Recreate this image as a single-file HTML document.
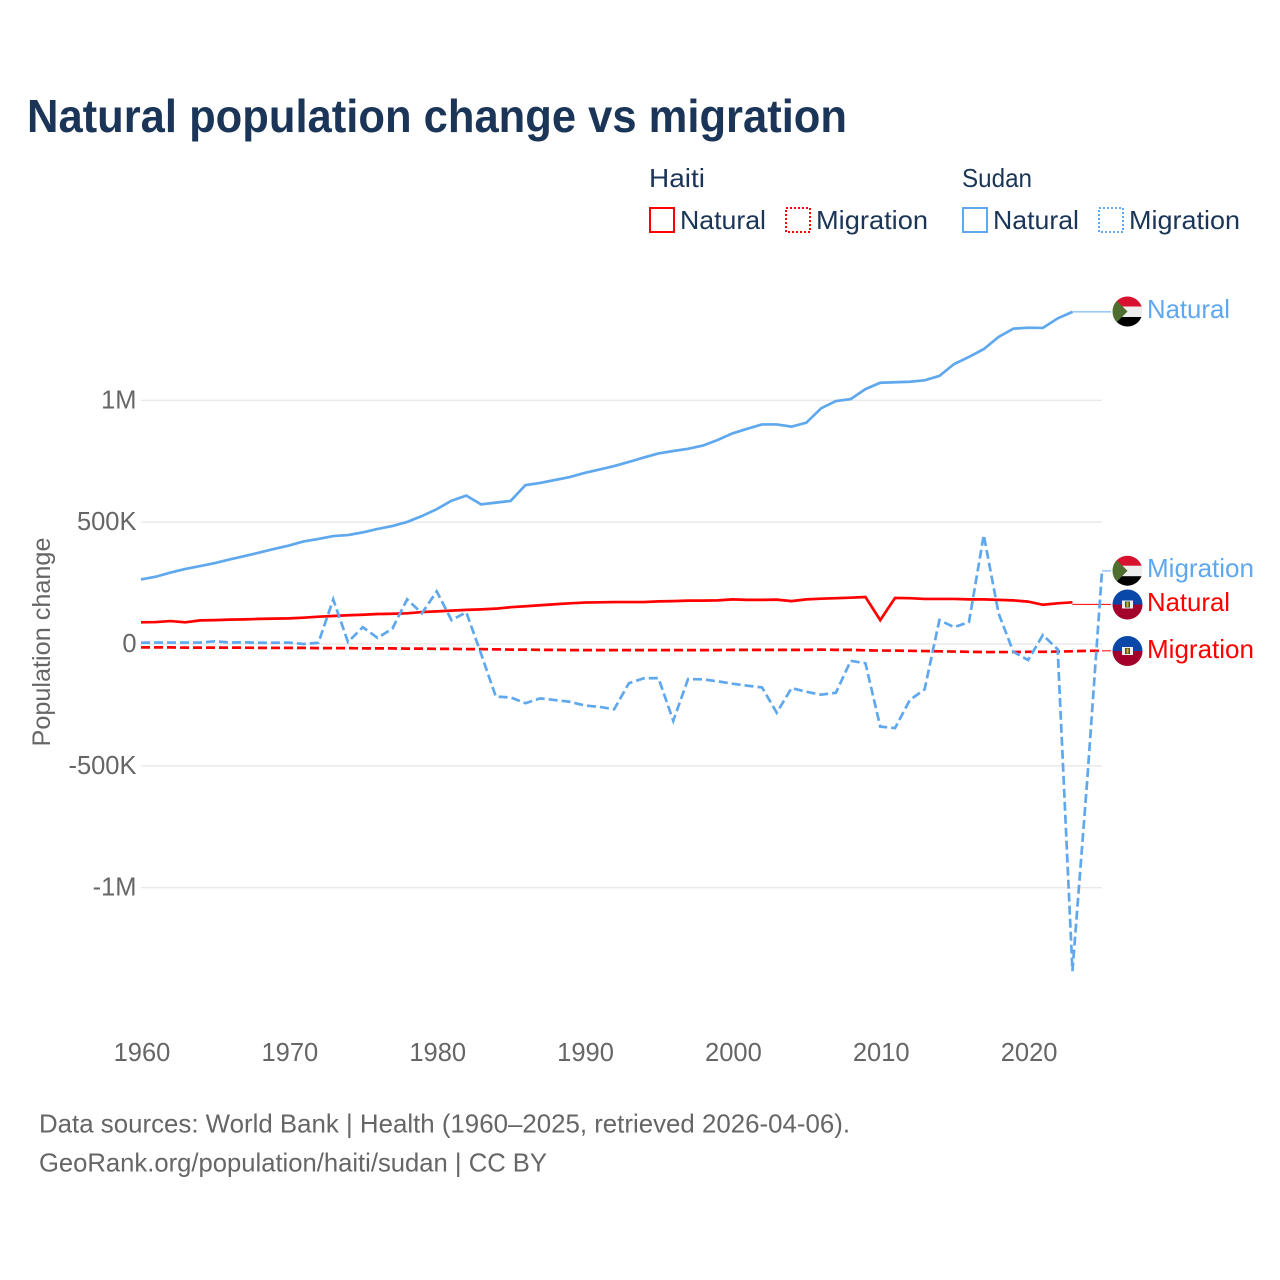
<!DOCTYPE html>
<html lang="en">
<head>
<meta charset="utf-8">
<title>Natural population change vs migration</title>
<style>
html,body{margin:0;padding:0;background:#fff;}
svg{display:block;font-family:"Liberation Sans",sans-serif;}
</style>
</head>
<body>
<svg id="chart" xmlns="http://www.w3.org/2000/svg" width="1280" height="1280" viewBox="0 0 1280 1280">
  <rect x="0" y="0" width="1280" height="1280" fill="#fff"/>
  <text x="27" y="132" font-size="46" font-weight="700" fill="#1a3557" textLength="820" lengthAdjust="spacingAndGlyphs">Natural population change vs migration</text>

  <g font-size="26" fill="#1a3557">
    <text x="649" y="187" textLength="56" lengthAdjust="spacingAndGlyphs">Haiti</text>
    <text x="962" y="187" textLength="70" lengthAdjust="spacingAndGlyphs">Sudan</text>
    <rect x="650" y="208" width="24" height="24" fill="none" stroke="#ff0000" stroke-width="2"/>
    <text x="680" y="229" textLength="86" lengthAdjust="spacingAndGlyphs">Natural</text>
    <rect x="786" y="208" width="24" height="24" fill="none" stroke="#ff0000" stroke-width="2" stroke-dasharray="2 2"/>
    <text x="816" y="229" textLength="112" lengthAdjust="spacingAndGlyphs">Migration</text>
    <rect x="963" y="208" width="24" height="24" fill="none" stroke="#5fa8ee" stroke-width="2"/>
    <text x="993" y="229" textLength="86" lengthAdjust="spacingAndGlyphs">Natural</text>
    <rect x="1099" y="208" width="24" height="24" fill="none" stroke="#5fa8ee" stroke-width="2" stroke-dasharray="2 2"/>
    <text x="1129" y="229" textLength="111" lengthAdjust="spacingAndGlyphs">Migration</text>
  </g>

  <text transform="translate(50,642) rotate(-90)" text-anchor="middle" font-size="25" fill="#666" textLength="209" lengthAdjust="spacingAndGlyphs">Population change</text>

  <g id="grid"></g>
  <g id="yticks" font-size="25.5" fill="#666" text-anchor="end"></g>
  <g id="xticks" font-size="25.5" fill="#666" text-anchor="middle"></g>
  <g id="series"></g>

  <defs>
    <clipPath id="flag-clip-a"><circle cx="1127.5" cy="311.5" r="15"/></clipPath>
    <clipPath id="flag-clip-b"><circle cx="1127.5" cy="570.7" r="15"/></clipPath>
    <clipPath id="flag-clip-c"><circle cx="1127.5" cy="604.5" r="15"/></clipPath>
    <clipPath id="flag-clip-d"><circle cx="1127.5" cy="651" r="15"/></clipPath>
  </defs>

  <g clip-path="url(#flag-clip-a)">
    <rect x="1112" y="296" width="31" height="11" fill="#d8112f"/><rect x="1112" y="306.5" width="31" height="10.5" fill="#eeeeee"/><rect x="1112" y="317" width="31" height="11" fill="#000"/>
    <path d="M1112 296L1127.5 311.5L1112 327Z" fill="#4e6f2f"/>
  </g>
  <g clip-path="url(#flag-clip-b)">
    <rect x="1112" y="555" width="31" height="11" fill="#d8112f"/><rect x="1112" y="565.7" width="31" height="10.5" fill="#eeeeee"/><rect x="1112" y="576.2" width="31" height="11" fill="#000"/>
    <path d="M1112 555.2L1127.5 570.7L1112 586.2Z" fill="#4e6f2f"/>
  </g>
  <g clip-path="url(#flag-clip-c)">
    <rect x="1112" y="589" width="31" height="15.5" fill="#0a48a8"/><rect x="1112" y="604.5" width="31" height="16" fill="#a3002b"/>
    <rect x="1122" y="600.5" width="11" height="8" fill="#eeeeee"/><rect x="1125" y="601.5" width="5" height="6" fill="#3b5a3a"/><rect x="1126.5" y="602" width="2" height="5" fill="#d9b400"/>
  </g>
  <g clip-path="url(#flag-clip-d)">
    <rect x="1112" y="635.5" width="31" height="15.5" fill="#0a48a8"/><rect x="1112" y="651" width="31" height="16" fill="#a3002b"/>
    <rect x="1122" y="647" width="11" height="8" fill="#eeeeee"/><rect x="1125" y="648" width="5" height="6" fill="#3b5a3a"/><rect x="1126.5" y="648.5" width="2" height="5" fill="#d9b400"/>
  </g>

  <text x="1147" y="318" font-size="26" fill="#5fa8ee" textLength="83" lengthAdjust="spacingAndGlyphs">Natural</text>
  <text x="1147" y="577" font-size="26" fill="#5fa8ee" textLength="107" lengthAdjust="spacingAndGlyphs">Migration</text>
  <text x="1147" y="611" font-size="26" fill="#ff0000" textLength="83" lengthAdjust="spacingAndGlyphs">Natural</text>
  <text x="1147" y="658" font-size="26" fill="#ff0000" textLength="107" lengthAdjust="spacingAndGlyphs">Migration</text>

  <text x="39" y="1132.5" font-size="26" fill="#666" textLength="811" lengthAdjust="spacingAndGlyphs">Data sources: World Bank | Health (1960–2025, retrieved 2026-04-06).</text>
  <text x="39" y="1171.5" font-size="26" fill="#666" textLength="508" lengthAdjust="spacingAndGlyphs">GeoRank.org/population/haiti/sudan | CC BY</text>
</svg>
<script>
const startYear = 1960;
const xTickYears = [1960, 1970, 1980, 1990, 2000, 2010, 2020];
const yTickValues = [1000, 500, 0, -500, -1000];
const yTickLabels = ["1M", "500K", "0", "-500K", "-1M"];

// Values in thousands of people per year, one per year from 1960.
const sudanNatural = [265,276,293,308,320,332,347,361,375,390,
  404,421,431,443,447,458,472,484,501,525,
  553,588,609,573,580,587,652,661,673,685,
  702,716,730,747,765,782,792,801,814,837,
  864,883,901,901,892,908,967,997,1005,1046,
  1072,1074,1076,1082,1100,1149,1178,1210,1260,1294,
  1298,1297,1336,1363];
const sudanMigration = [5,6,6,6,6,11,6,7,5,5,
  6,0,5,183,8,69,25,63,183,126,
  216,98,130,-40,-216,-219,-243,-223,-230,-237,
  -252,-258,-268,-161,-141,-140,-315,-144,-145,-153,
  -163,-171,-178,-282,-181,-196,-208,-200,-69,-79,
  -339,-345,-230,-186,98,69,90,447,126,-32,
  -66,37,-22,-1342,-558,300];
const haitiNatural = [89,90,94,89,97,98,100,101,103,104,
  105,108,112,115,118,120,123,124,126,131,
  134,137,140,142,145,151,155,159,163,167,
  170,171,172,172,172,175,176,178,178,179,
  183,181,181,182,176,183,186,188,190,193,
  98,189,188,185,185,185,183,183,181,179,
  174,161,167,171];
const haitiMigration = [-14,-14,-14,-15,-15,-15,-15,-15,-16,-16,
  -16,-16,-17,-17,-17,-18,-18,-18,-19,-19,
  -20,-20,-21,-21,-22,-23,-23,-24,-24,-25,
  -25,-25,-25,-25,-25,-25,-25,-25,-25,-25,
  -24,-24,-24,-24,-24,-24,-23,-24,-24,-26,
  -27,-27,-28,-29,-30,-31,-32,-33,-33,-33,
  -32,-32,-31,-30,-28,-28];

const NS = "http://www.w3.org/2000/svg";
const BLUE = "#5fa8ee";
const RED = "#ff0000";
function xScale(year) { return 141 + (year - startYear) * 14.785; }
function yScale(v) { return 644 - v * 0.2437; }
function el(tag, attrs, parent) {
  const e = document.createElementNS(NS, tag);
  for (const k in attrs) e.setAttribute(k, attrs[k]);
  parent.appendChild(e);
  return e;
}

const gridG = document.getElementById("grid");
const yG = document.getElementById("yticks");
yTickValues.forEach(function (v, i) {
  const line = el("line", {x1: 141, x2: 1102, y1: yScale(v), y2: yScale(v), stroke: "#e6e6e6", "stroke-width": 1.2}, gridG);
  
  
  const t = el("text", {x: 136.5, y: yScale(v) + 8}, yG);
  t.textContent = yTickLabels[i];
  
  
});

const xG = document.getElementById("xticks");
xTickYears.forEach(function (yr) {
  const t = el("text", {x: xScale(yr) + 1, y: 1061}, xG);
  t.textContent = String(yr);
  
  
});

function linePath(values) {
  return values.map(function (v, i) {
    return (i ? "L" : "M") + xScale(startYear + i).toFixed(2) + " " + yScale(v).toFixed(2);
  }).join("");
}

const seriesG = document.getElementById("series");
function drawSeries(values, color, dashed, labelShift) {
  const lastI = values.length - 1;
  const endX = xScale(startYear + lastI);
  const endY = yScale(values[lastI]);
  const conn = el("line", {x1: endX, x2: 1111, y1: endY + labelShift, y2: endY + labelShift, stroke: color, "stroke-width": 1}, seriesG);
  
  
  const attrs = {d: linePath(values), fill: "none", stroke: color, "stroke-width": 2.7, "stroke-linejoin": "miter"};
  if (dashed) attrs["stroke-dasharray"] = "9 4";
  const path = el("path", attrs, seriesG);
  
  
}
drawSeries(haitiNatural, RED, false, 2);
drawSeries(haitiMigration, RED, true, 0);
drawSeries(sudanNatural, BLUE, false, 0);
drawSeries(sudanMigration, BLUE, true, 0);
</script>
</body>
</html>
